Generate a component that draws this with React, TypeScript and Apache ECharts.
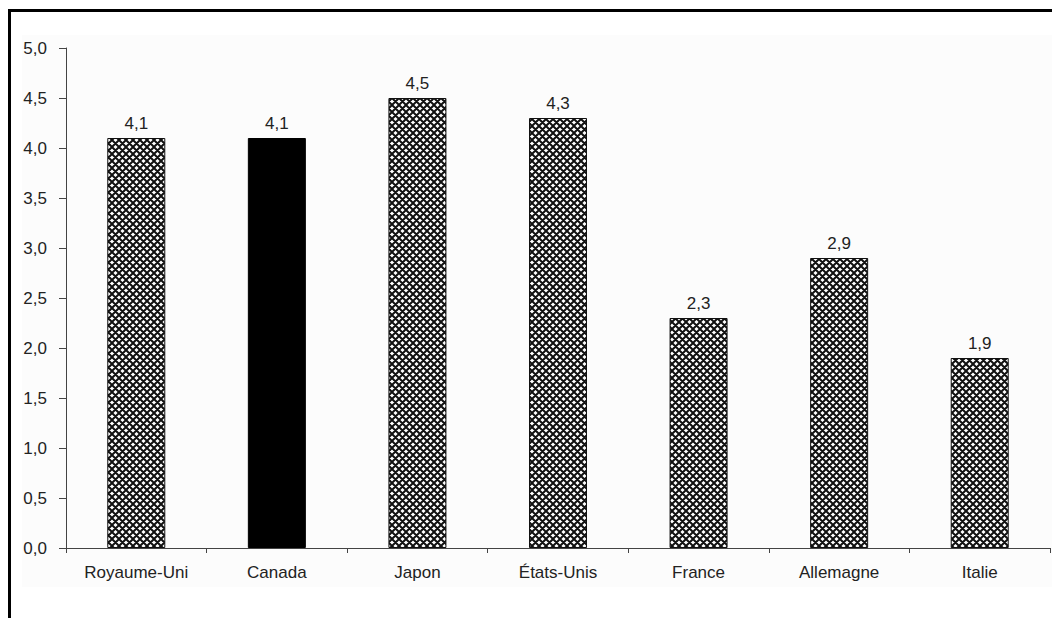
import React, { useEffect, useRef } from "react";
import * as echarts from "echarts";

const categories = ["Royaume-Uni", "Canada", "Japon", "États-Unis", "France", "Allemagne", "Italie"];
const values = [4.1, 4.1, 4.5, 4.3, 2.3, 2.9, 1.9];
const highlighted = "Canada";

const fmt = (v: number) => v.toFixed(1).replace(".", ",");

function makeHatch(): HTMLCanvasElement {
  const p = 7;
  const c = document.createElement("canvas");
  c.width = p;
  c.height = p;
  const ctx = c.getContext("2d")!;
  ctx.fillStyle = "#ffffff";
  ctx.fillRect(0, 0, p, p);
  ctx.strokeStyle = "#111111";
  ctx.lineWidth = 2;
  ctx.beginPath();
  for (let k = -1; k <= 1; k++) {
    ctx.moveTo(k * p, 0);
    ctx.lineTo(k * p + p, p);
    ctx.moveTo(k * p, p);
    ctx.lineTo(k * p + p, 0);
  }
  ctx.stroke();
  return c;
}

export default function App() {
  const ref = useRef<HTMLDivElement>(null);
  useEffect(() => {
    if (!ref.current) return;
    const chart = echarts.init(ref.current, null, { renderer: "svg" });
    const hatch = makeHatch();
    const pattern: any = { image: hatch, repeat: "repeat", imageWidth: 7, imageHeight: 7 };
    const font = "'Liberation Sans', Arial, sans-serif";
    chart.setOption({
      animation: false,
      backgroundColor: "#ffffff",
      graphic: [
        {
          type: "rect",
          shape: { x: 22, y: 35, width: 1040, height: 552 },
          style: { fill: "#fcfcfc" },
          z: -10,
          silent: true,
        },
        {
          type: "rect",
          shape: { x: 9.5, y: 10.5, width: 1100, height: 700 },
          style: { fill: "none", stroke: "#000", lineWidth: 3 },
          z: 100,
          silent: true,
        },
      ],
      grid: { left: 66, right: 2, top: 48, bottom: 70, containLabel: false },
      xAxis: {
        type: "category",
        data: categories,
        axisLine: { lineStyle: { color: "#444", width: 1 } },
        axisTick: { show: true, alignWithLabel: false, length: 5, lineStyle: { color: "#444" } },
        axisLabel: { color: "#222", fontSize: 17, fontFamily: font, margin: 16 },
      },
      yAxis: {
        type: "value",
        min: 0,
        max: 5,
        interval: 0.5,
        splitLine: { show: false },
        axisLine: { show: true, lineStyle: { color: "#444", width: 1 } },
        axisTick: { show: true, length: 7, lineStyle: { color: "#444" } },
        axisLabel: { color: "#222", fontSize: 17, fontFamily: font, margin: 19, formatter: (v: number) => fmt(v) },
      },
      series: [
        {
          type: "bar",
          barWidth: 58,
          data: values.map((v, i) => ({
            value: v,
            itemStyle:
              categories[i] === highlighted
                ? { color: "#000", borderColor: "#000", borderWidth: 1 }
                : { color: pattern, borderColor: "#111", borderWidth: 1 },
          })),
          label: {
            show: true,
            position: "top",
            distance: 6,
            color: "#222",
            fontSize: 17,
            fontFamily: font,
            formatter: (p: any) => fmt(p.value),
          },
        },
      ],
    });
    return () => chart.dispose();
  }, []);
  return (
    <div
      ref={ref}
      style={{ position: "fixed", left: 0, top: 0, width: 1052, height: 618 }}
    />
  );
}
